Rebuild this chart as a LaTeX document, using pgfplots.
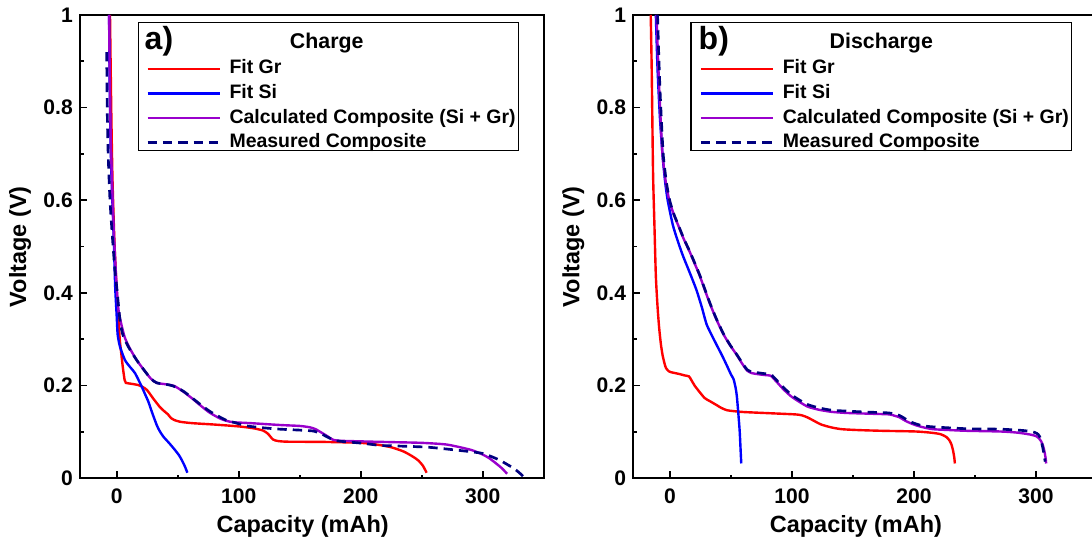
\documentclass[border=0pt]{standalone}
\usepackage{fontspec}
\setmainfont{Liberation Sans}
\usepackage{pgfplots}
\pgfplotsset{compat=1.18}
\definecolor{cPurple}{RGB}{153,0,204}
\definecolor{cNavy}{RGB}{0,0,128}
\newcommand{\tickfont}{\fontsize{15.8pt}{17pt}\selectfont\bfseries}
\newcommand{\labfont}{\fontsize{17.6pt}{20pt}\selectfont\bfseries}
\newcommand{\legfont}{\fontsize{14.6pt}{17pt}\selectfont\bfseries}
\newcommand{\titfont}{\fontsize{16pt}{18pt}\selectfont\bfseries}
\pgfplotsset{
  panel/.style={
    anchor=south west,
    scale only axis, width=347.7pt, height=347.5pt,
    xmin=-30, xmax=350, ymin=0, ymax=1,
    xtick={0,100,200,300}, xticklabels={0,100,200,300},
    minor xtick={50,150,250},
    ytick={0,0.2,0.4,0.6,0.8,1}, yticklabels={0,0.2,0.4,0.6,0.8,1},
    minor ytick={0.1,0.3,0.5,0.7,0.9},
    tick align=inside, tick pos=left,
    major tick length=5.25pt, minor tick length=2.6pt,
    tick style={black, line width=1.2pt},
    axis line style={line width=1.5pt},
    ticklabel style={font=\tickfont},
    xticklabel style={yshift=-4pt},
    yticklabel style={xshift=-2pt},
    xlabel={Capacity (mAh)}, ylabel={Voltage (V)},
    xlabel style={at={(axis description cs:0.48,-0.1036)}, anchor=center, font=\labfont},
    ylabel style={at={(axis description cs:-0.1295,0.5)}, anchor=center, font=\labfont},
    legend image code/.code={\draw[##1] (0pt,0pt) -- (54pt,0pt);},
    legend cell align=left,
    legend style={draw=none, fill=none, at={(0.142,0.9035)}, anchor=north west,
      inner sep=0pt, row sep=4.95pt, column sep=6.5pt, font=\legfont,
      nodes={inner sep=0pt, text height=10.5pt, text depth=3pt}},
    legend entries={Fit Gr, Fit Si, Calculated Composite (Si + Gr), Measured Composite},
  },
  gr/.style={red, line width=1.8pt, smooth, tension=0.4},
  si/.style={blue, line width=1.8pt, smooth, tension=0.4},
  cc/.style={cPurple, line width=1.8pt, smooth, tension=0.4},
  mc/.style={cNavy, line width=2pt, dash pattern=on 7pt off 4.5pt, smooth, tension=0.4},
}
\begin{document}
\begin{tikzpicture}
\path[use as bounding box] (0pt,0pt) rectangle (819pt,405pt);
% ---------------- a) Charge ----------------
\begin{axis}[panel, at={(60.08pt,46.28pt)}]
\addplot[gr] coordinates {(-5.5,1.0) (-4.5,0.8) (-3.5,0.65) (-2,0.52) (-0.5,0.43) (1,0.36) (2.5,0.3) (3.5,0.275) (5,0.24) (6.5,0.212) (7.5,0.206) (12,0.204) (18,0.201) (22,0.196) (25,0.19) (30,0.172) (35,0.155) (38,0.147) (42,0.138) (44.5,0.13) (47,0.126) (52,0.122) (62,0.119) (80,0.116) (100,0.112) (112,0.108) (120,0.103) (124,0.096) (128,0.084) (132,0.0805) (140,0.079) (170,0.0785) (200,0.0765) (215,0.072) (225,0.067) (235,0.058) (242,0.048) (247,0.039) (251,0.027) (254,0.012)};
\addplot[si] coordinates {(-6.2,1.0) (-5.8,0.85) (-5,0.72) (-4,0.63) (-3,0.56) (-2,0.48) (-1.2,0.41) (0,0.35) (0.8,0.31) (2.7,0.284) (6.8,0.255) (11,0.24) (15,0.227) (20.5,0.198) (23,0.183) (26,0.165) (29,0.142) (32.8,0.115) (35,0.103) (38.2,0.09) (43,0.076) (47.8,0.061) (51,0.05) (53.3,0.0395) (56,0.025) (57.9,0.012)};
\addplot[cc] coordinates {(-6.3,1.0) (-5.6,0.85) (-4.8,0.72) (-3.8,0.64) (-2.8,0.557) (-1.6,0.49) (0,0.413) (1.5,0.363) (4,0.33) (6.5,0.305) (10,0.284) (16.4,0.255) (22,0.235) (28,0.215) (32.8,0.206) (40,0.203) (46.4,0.2) (50,0.195) (54.6,0.187) (62,0.172) (68.3,0.158) (76,0.142) (84.7,0.129) (90,0.124) (95.6,0.121) (110,0.119) (133.9,0.115) (150,0.113) (158.4,0.110) (163,0.106) (166.6,0.1006) (172,0.092) (177.5,0.083) (183,0.081) (188.5,0.0805) (210,0.079) (226.4,0.078) (250,0.0765) (270,0.073) (284.8,0.065) (292,0.06) (299.4,0.052) (305,0.044) (311,0.032) (316,0.021) (320,0.0097)};
\addplot[mc] coordinates {(-8.2,0.92) (-7.8,0.8) (-7,0.7) (-5.5,0.6) (-3.5,0.52) (-1.5,0.45) (0,0.413) (2.7,0.341) (5,0.31) (9.5,0.284) (16.4,0.255) (22,0.235) (28,0.215) (32.8,0.206) (40,0.203) (46.4,0.199) (54.6,0.188) (62,0.173) (68.3,0.16) (76,0.145) (84.7,0.132) (90,0.125) (97,0.12) (106.6,0.113) (120,0.109) (133.9,0.106) (150,0.104) (161.2,0.102) (167,0.097) (172,0.09) (180.2,0.081) (200,0.076) (215.8,0.071) (226.4,0.070) (255.6,0.067) (284.8,0.059) (299.4,0.054) (307,0.047) (314,0.039) (320,0.03) (325.7,0.021) (330,0.012) (333.9,0.002)};
\draw[line width=0.8pt] (rel axis cs:0.1256,0.7071) rectangle (rel axis cs:0.9454,0.9842);
\node[anchor=west, font=\fontsize{24pt}{26pt}\selectfont\bfseries] at (rel axis cs:0.1292,0.944) {a)};
\node[font=\titfont] at (rel axis cs:0.532,0.9396) {Charge};
\end{axis}
% ---------------- b) Discharge ----------------
\begin{axis}[panel, at={(475.05pt,46.28pt)}]
\addplot[gr] coordinates {(-15.8,1.0) (-15,0.883) (-13.9,0.66) (-12.8,0.55) (-11.6,0.437) (-10.2,0.37) (-8.9,0.325) (-7.5,0.29) (-6.1,0.266) (-4.5,0.248) (-3.3,0.238) (-1,0.231) (0.8,0.229) (7.8,0.225) (12,0.222) (15.5,0.22) (17.5,0.212) (20.2,0.2) (24,0.187) (28.5,0.173) (33,0.166) (38.2,0.158) (42,0.152) (46.5,0.147) (52,0.145) (60.4,0.143) (77,0.141) (102,0.138) (108,0.136) (113,0.131) (118,0.124) (124,0.116) (132,0.11) (140.7,0.106) (155,0.104) (174,0.1025) (201.7,0.101) (215.5,0.098) (222,0.095) (226.6,0.089) (229,0.082) (230.7,0.073) (232,0.06) (233,0.045) (233.5,0.032)};
\addplot[si] coordinates {(-11.6,1.0) (-10.2,0.883) (-8.3,0.78) (-6.1,0.697) (-4,0.64) (-1.9,0.6) (2.2,0.548) (6,0.515) (10.5,0.481) (16,0.445) (21.6,0.407) (26,0.37) (29.9,0.333) (34,0.31) (38.2,0.288) (42.5,0.266) (46.5,0.244) (50,0.224) (52.1,0.214) (53.8,0.195) (54.8,0.177) (56,0.14) (57.1,0.1025) (57.8,0.065) (58.4,0.032)};
\addplot[cc] coordinates {(-11,1.0) (-10,0.92) (-8.9,0.845) (-7.6,0.77) (-6.1,0.697) (-3.5,0.64) (-0.6,0.6) (3,0.57) (6.4,0.548) (11,0.518) (16.1,0.489) (20,0.465) (24.4,0.437) (28.5,0.407) (32.7,0.377) (38,0.343) (43.8,0.311) (49,0.288) (54.8,0.266) (59,0.248) (63.2,0.2325) (67,0.227) (71.5,0.225) (77,0.223) (82.5,0.2214) (85,0.215) (88,0.2065) (93,0.192) (99.2,0.177) (106,0.165) (113,0.1545) (122,0.148) (132.4,0.1434) (145,0.141) (160,0.1397) (179.5,0.138) (184,0.135) (187.8,0.132) (193,0.124) (198.9,0.117) (206,0.111) (215.5,0.106) (230,0.104) (243.2,0.1025) (271,0.101) (283,0.099) (290.3,0.0966) (296,0.094) (300,0.091) (302.5,0.086) (304.2,0.08) (305.8,0.07) (306.9,0.058) (307.8,0.045) (308.3,0.032)};
\addplot[mc] coordinates {(-10.2,1.0) (-9.3,0.92) (-8.3,0.845) (-7,0.77) (-5.5,0.697) (-3,0.64) (-0.3,0.6) (3.2,0.57) (6.6,0.548) (11.2,0.518) (16.3,0.489) (20.2,0.465) (24.6,0.437) (28.7,0.407) (32.9,0.377) (38.2,0.343) (44,0.311) (49.2,0.288) (55,0.266) (59.2,0.249) (63.4,0.234) (67,0.23) (71.5,0.228) (77,0.226) (82.5,0.2245) (85,0.218) (88,0.21) (93,0.196) (99.2,0.181) (106,0.169) (113,0.159) (122,0.152) (132.4,0.147) (145,0.145) (160,0.143) (179.5,0.141) (187.8,0.136) (193,0.128) (198.9,0.12) (206,0.114) (215.5,0.111) (243,0.107) (271,0.106) (290,0.103) (299,0.099) (302,0.094) (304,0.084) (306,0.06) (307.5,0.036)};
\draw[line width=0.8pt] (rel axis cs:0.1243,0.7071) rectangle (rel axis cs:0.9455,0.9842);
\node[anchor=west, font=\fontsize{24pt}{26pt}\selectfont\bfseries] at (rel axis cs:0.1307,0.944) {b)};
\node[font=\titfont] at (rel axis cs:0.5347,0.9396) {Discharge};
\end{axis}
\end{tikzpicture}
\end{document}
